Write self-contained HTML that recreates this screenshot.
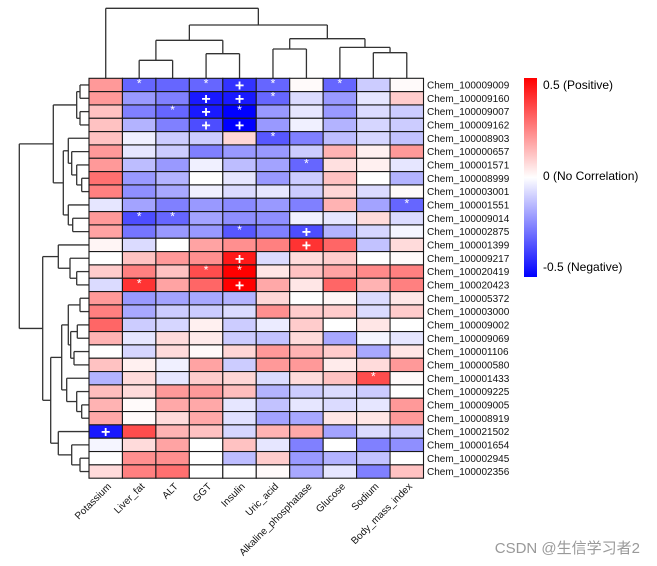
<!DOCTYPE html>
<html><head><meta charset="utf-8"><style>
html,body{margin:0;padding:0;background:#fff;}
svg{display:block;font-family:"Liberation Sans",Arial,sans-serif;}
</style></head><body>
<svg id="chart" width="657" height="566" viewBox="0 0 657 566" xmlns="http://www.w3.org/2000/svg">
<defs><linearGradient id="cg" x1="0" y1="0" x2="0" y2="1">
<stop offset="0" stop-color="#ff0000"/><stop offset="0.5" stop-color="#ffffff"/><stop offset="1" stop-color="#0000ff"/></linearGradient></defs>
<g id="dendro"></g>
<g id="cells"></g>
<g id="rlabels"></g>
<g id="clabels"></g>
<g>
<rect x="524" y="78" width="13" height="199" fill="url(#cg)"/>
<text x="543" y="89" font-size="12">0.5 (Positive)</text>
<text x="543" y="180" font-size="12">0 (No Correlation)</text>
<text x="543" y="271" font-size="12">-0.5 (Negative)</text>
</g>
<text x="640" y="553" text-anchor="end" font-size="15" fill="#999" font-family="'Liberation Sans','Noto Sans CJK SC',sans-serif">CSDN @生信学习者2</text>
</svg>
<script>
const cols = ["Potassium","Liver_fat","ALT","GGT","Insulin","Uric_acid","Alkaline_phosphatase","Glucose","Sodium","Body_mass_index"];
const rows = ["Chem_100009009","Chem_100009160","Chem_100009007","Chem_100009162","Chem_100008903","Chem_100000657","Chem_100001571","Chem_100008999","Chem_100003001","Chem_100001551","Chem_100009014","Chem_100002875","Chem_100001399","Chem_100009217","Chem_100020419","Chem_100020423","Chem_100005372","Chem_100003000","Chem_100009002","Chem_100009069","Chem_100001106","Chem_100000580","Chem_100001433","Chem_100009225","Chem_100009005","Chem_100008919","Chem_100021502","Chem_100001654","Chem_100002945","Chem_100002356"];
const values = [
[0.2,-0.3,-0.3,-0.3,-0.4,-0.3,0.01,-0.3,-0.1,0.01],
[0.2,-0.2,-0.25,-0.45,-0.45,-0.3,-0.07,-0.2,-0.05,0.1],
[0.12,-0.25,-0.3,-0.45,-0.5,-0.2,-0.05,-0.2,-0.07,-0.1],
[0.12,-0.15,-0.25,-0.35,-0.5,-0.2,-0.03,-0.15,-0.08,-0.1],
[0.12,-0.03,-0.1,-0.1,0.08,-0.33,-0.25,-0.13,-0.08,-0.12],
[0.2,-0.05,-0.1,-0.25,-0.2,-0.2,-0.1,0.15,0.03,0.2],
[0.2,-0.13,-0.2,-0.03,-0.13,-0.18,-0.3,0.06,0.03,-0.05],
[0.28,-0.2,-0.15,0.0,-0.05,-0.2,-0.1,0.12,0.0,-0.15],
[0.25,-0.22,-0.17,-0.03,-0.07,-0.05,-0.1,0.08,-0.07,0.01],
[-0.05,-0.18,-0.25,-0.2,-0.23,-0.2,-0.25,0.15,-0.18,-0.3],
[0.2,-0.35,-0.3,-0.18,-0.22,-0.22,-0.03,-0.05,0.07,-0.07],
[0.18,-0.27,-0.2,-0.2,-0.33,-0.25,-0.35,-0.15,-0.08,-0.02],
[0.02,-0.07,0.0,0.18,0.22,0.25,0.4,0.3,-0.12,0.07],
[0.0,0.12,0.2,0.22,0.45,-0.07,0.07,0.1,0.0,0.01],
[0.1,0.25,0.12,0.35,0.5,0.05,0.12,0.18,0.23,0.25],
[-0.07,0.4,0.18,0.3,0.5,0.17,0.05,0.3,0.15,0.25],
[0.2,-0.2,-0.18,-0.17,-0.15,0.08,0.0,0.02,-0.07,0.05],
[0.25,-0.17,-0.1,-0.1,-0.07,0.22,0.1,0.1,-0.07,0.1],
[0.3,-0.1,-0.08,0.03,-0.1,-0.04,0.1,0.0,0.05,0.0],
[0.15,-0.05,0.07,0.04,-0.1,-0.12,0.07,-0.17,-0.02,-0.05],
[0.0,-0.08,0.07,0.01,0.08,0.2,0.15,0.1,-0.17,0.05],
[0.12,0.03,-0.03,0.18,-0.1,0.2,0.2,0.04,0.07,0.2],
[-0.15,0.07,-0.05,0.1,0.08,-0.07,0.07,0.12,0.35,0.01],
[0.13,0.07,0.2,0.2,0.13,-0.15,-0.1,-0.07,-0.1,0.0],
[0.15,0.01,0.17,0.17,-0.05,-0.12,-0.05,-0.07,-0.05,0.2],
[0.17,0.01,0.07,0.17,-0.06,-0.18,-0.17,0.05,0.05,0.2],
[-0.45,0.35,0.15,0.12,-0.08,0.15,0.17,-0.18,-0.07,-0.1],
[-0.02,0.07,0.18,0.0,0.12,-0.05,-0.25,0.0,-0.25,-0.22],
[0.0,0.22,0.22,0.0,-0.13,0.1,-0.2,-0.15,-0.12,0.0],
[0.07,0.25,0.28,0.0,0.0,0.01,-0.17,-0.05,-0.25,0.12]];
const marks = [
"-*-*+*-*--","---++*----","--*+*-----","---++-----","-----*----","----------","------*---","----------","----------","---------*",
"-**-------","----*-+---","------+---","----+-----","---**-----","-*--+-----","----------","----------","----------","----------",
"----------","----------","--------*-","----------","----------","----------","+---------","----------","----------","----------"];
// column tree: [left,right,height px from grid top]; leaves are indices
const colTree = [0,[[[1,2,18],[3,4,24.6],38],[[5,6,29.3],[7,[8,9,25.6],30.9],39.6],53.3],70];
const rowTree = [
 [[[0,1,9],[2,3,9],12.3],[[4,[5,[6,[7,8,7.3],12.3],17.3],20.7],[9,[10,11,16.3],20.7],25.7],35.7],
 [[12,[13,[14,15,12.3],19],30.7],[[[[16,17,9],[[18,19,11.7],[20,21,15],18.3],20.7],[22,[23,[24,25,7.3],12.3],22.3],27.3],[26,[27,[28,29,9],17.3],30.7],38.3],46.3],
 69.7];

const X0=89, Y0=78.3, CW=33.45, RH=13.33;
const xs = i => X0 + CW*i;
const ys = j => Y0 + RH*j;
const NS="http://www.w3.org/2000/svg";
function color(v){
  const t=Math.min(1,Math.abs(v)/0.5);
  const c=Math.round(255*(1-t));
  return v>=0?`rgb(255,${c},${c})`:`rgb(${c},${c},255)`;
}
function mk(tag,attrs,parent){const e=document.createElementNS(NS,tag);for(const k in attrs)e.setAttribute(k,attrs[k]);parent.appendChild(e);return e;}
const cells=document.getElementById('cells');
values.forEach((row,j)=>row.forEach((v,i)=>{
  const r=mk('rect',{x:xs(i),y:ys(j),width:CW,height:RH,fill:color(v),stroke:'#1a1a1a','stroke-width':1.1},cells);
  
  
  const m=marks[j][i];
  if(m==='*'){
    const t=mk('text',{x:xs(i)+CW/2,y:ys(j)+9,'text-anchor':'middle','font-size':12,fill:'#fff'},cells);
    
    
    t.textContent='*';
  } else if(m==='+'){
    const t=mk('text',{x:xs(i)+CW/2,y:ys(j)+RH/2+5.5,'text-anchor':'middle','font-size':16,'font-weight':'bold',fill:'#fff'},cells);
    
    
    t.textContent='+';
  }
}));
const rl=document.getElementById('rlabels');
rows.forEach((n,j)=>{
  const t=mk('text',{x:427,y:ys(j)+RH/2+3.6,'font-size':10,fill:'#111'},rl);
  
  
  t.textContent=n;
});
const cl=document.getElementById('clabels');
cols.forEach((n,i)=>{
  const x=xs(i)+CW/2+6, y=487;
  const t=mk('text',{x:x,y:y,'font-size':10,'text-anchor':'end',fill:'#111',transform:`rotate(-45 ${x} ${y})`},cl);
  
  
  t.textContent=n;
});
const dg=document.getElementById('dendro');
function line(x1,y1,x2,y2){const l=mk('line',{x1,y1,x2,y2,stroke:'#333','stroke-width':1.3},dg);
  
  }
function colNode(n){
  if(typeof n==='number') return [xs(n)+CW/2,0];
  const a=colNode(n[0]), b=colNode(n[1]), h=n[2], yy=Y0-h;
  line(a[0],Y0-a[1],a[0],yy); line(b[0],Y0-b[1],b[0],yy); line(a[0],yy,b[0],yy);
  return [(a[0]+b[0])/2,h];
}
colNode(colTree);
function rowNode(n){
  if(typeof n==='number') return [ys(n)+RH/2,0];
  const a=rowNode(n[0]), b=rowNode(n[1]), h=n[2], xx=X0-h;
  line(X0-a[1],a[0],xx,a[0]); line(X0-b[1],b[0],xx,b[0]); line(xx,a[0],xx,b[0]);
  return [(a[0]+b[0])/2,h];
}
rowNode(rowTree);
</script>
</body></html>
